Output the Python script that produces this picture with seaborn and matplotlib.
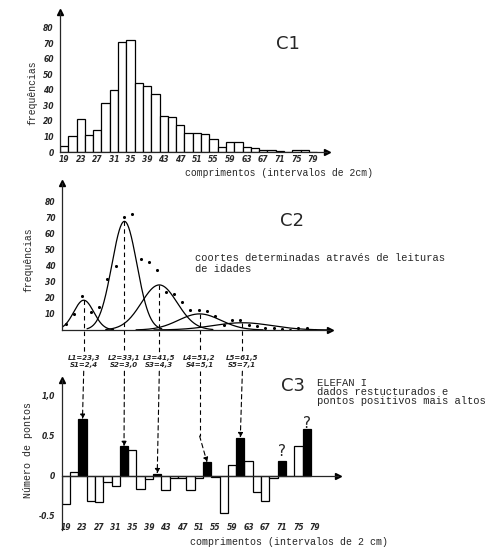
import numpy as np
import pandas as pd
import matplotlib
matplotlib.use("Agg")
import matplotlib.pyplot as plt
import seaborn as sns

W, H = 500, 556

# C1 / C2 : frequencias por classe de 2 cm (centro da classe)
centros = list(range(19, 81, 2))
frequencias = [4, 10, 21, 11, 14.3, 31.5, 40, 70.5, 72, 44.3,
               42.5, 37, 23.3, 22.4, 17.3, 12.4, 12.4, 11.5, 8.5, 3.2,
               6.2, 6.2, 3.2, 2.3, 1.3, 1.3, 0.8, 0, 1.2, 1.5, 0.3]
ticks_x = list(range(19, 81, 4))

# C2 : coortes (medias, desvios, alturas dos picos)
L = [23.3, 33.1, 41.5, 51.2, 61.5]
S = [2.4, 3.0, 4.3, 5.1, 7.1]
picos = [18.5, 67.5, 28, 10, 4.5]

# C3 : ELEFAN I, pontos por classe
centros3 = list(range(19, 79, 2))
pontos = [-0.35, 0.05, 0.71, -0.31, -0.33, -0.07, -0.12, 0.37, 0.33, -0.16,
          -0.04, 0.03, -0.17, -0.03, -0.03, -0.17, -0.03, 0.17, -0.01, -0.46,
          0.14, 0.48, 0.19, -0.20, -0.31, -0.02, 0.19, 0.0, 0.38, 0.59]
picos_positivos = [23, 33, 41, 53, 61, 71, 77]
alvos = [23, 33, 41, 53, 61]

MONO = "Liberation Mono"
TICK = dict(fontsize=5.5, fontstyle="italic", fontweight="bold")


def box(left, top, right, bottom):
    return [left / W, 1 - bottom / H, (right - left) / W, (bottom - top) / H]


def px(x, y):
    return x / W, 1 - y / H


def arrow_axes(ax, x_end, y_top, ymin):
    sns.despine(ax=ax)
    ax.spines["bottom"].set_position(("data", 0))
    ax.spines["bottom"].set_bounds(18, x_end)
    ax.spines["left"].set_bounds(ymin, y_top)
    for sp in ("left", "bottom"):
        ax.spines[sp].set_linewidth(0.9)
    ax.plot(x_end, 0, ">k", ms=4, clip_on=False)
    ax.plot(18, y_top, "^k", ms=4, clip_on=False)
    ax.tick_params(axis="y", direction="out", length=3, width=0.8, pad=1.5)
    ax.tick_params(axis="x", length=0, pad=2)


sns.set_style("white")
plt.rcParams["font.family"] = ["DejaVu Sans"]

fig = plt.figure(figsize=(W / 100, H / 100), dpi=100)

# ---------------- C1 ----------------
ax1 = fig.add_axes(box(60, 12, 338, 152))
df1 = pd.DataFrame({"comp": centros, "freq": frequencias})
sns.barplot(data=df1, x="comp", y="freq", native_scale=True, width=1,
            color="white", edgecolor="black", linewidth=0.9, errorbar=None, ax=ax1)
ax1.set_xlim(18, 85)
ax1.set_ylim(0, 90)
arrow_axes(ax1, 82.3, 90, 0)
ax1.set_yticks(range(0, 90, 10), [str(v) for v in range(0, 90, 10)], **TICK)
ax1.set_xticks(ticks_x, [str(v) for v in ticks_x], **TICK)
ax1.set_xlabel("")
ax1.set_ylabel("")

# ---------------- C2 ----------------
ax2 = fig.add_axes(box(61.7, 182.7, 340, 330))
sns.scatterplot(x=centros, y=frequencias, color="black", s=5, linewidth=0, ax=ax2)
for m, s, a in zip(L, S, picos):
    xs = np.linspace(max(18, m - 3 * s), min(82, m + 3 * s), 200)
    ys = a * np.exp(-0.5 * ((xs - m) / s) ** 2)
    sns.lineplot(x=xs, y=ys, color="black", lw=0.9, ax=ax2)
    ax2.plot([m, m], [a, -13.7], color="black", lw=0.8, ls=(0, (4, 3)), clip_on=False)
ax2.set_xlim(18, 85)
ax2.set_ylim(0, 91.5)
arrow_axes(ax2, 82.7, 91.5, 0)
ax2.set_yticks(range(10, 90, 10), [str(v) for v in range(10, 90, 10)], **TICK)
ax2.set_xticks([])

# ---------------- C3 ----------------
ax3 = fig.add_axes(box(61.7, 380, 340, 530.4))
df3 = pd.DataFrame({"comp": centros3, "pontos": pontos})
df3["pico"] = df3["comp"].isin(picos_positivos)
sns.barplot(data=df3, x="comp", y="pontos", hue="pico", native_scale=True, width=1,
            palette={True: "black", False: "white"}, edgecolor="black", linewidth=0.9,
            dodge=False, errorbar=None, legend=False, ax=ax3)
ax3.set_xlim(18, 85)
ax3.set_ylim(-0.68, 1.2)
arrow_axes(ax3, 84.6, 1.2, -0.68)
ax3.set_yticks([-0.5, 0, 0.5, 1.0], ["-0.5", "0", "0.5", "1,0"], **TICK)
ax3.set_yticks(np.arange(-0.6, 1.15, 0.1), minor=True)
ax3.tick_params(axis="y", which="minor", direction="out", length=2, width=0.6)
ax3.set_xticks([])
ax3.set_xlabel("")
ax3.set_ylabel("")
for v in ticks_x:
    ax3.text(v, -0.65, str(v), ha="center", va="center", **TICK)

# dashed arrows from the cohorts to the ELEFAN peaks
for i, (m, s, bx) in enumerate(zip(L, S, alvos), start=1):
    by = pontos[centros3.index(bx)]
    ax3.text(m, 1.475, f"L{i}={m:.1f}".replace(".", ","), ha="center", va="center",
             fontsize=5, fontstyle="italic", fontweight="bold")
    ax3.text(m, 1.39, f"S{i}={s:.1f}".replace(".", ","), ha="center", va="center",
             fontsize=5, fontstyle="italic", fontweight="bold")
    start = (m, 1.31)
    if abs(bx - m) > 1:
        ax3.plot([m, m], [1.31, 0.5], color="black", lw=0.8, ls=(0, (4, 3)), clip_on=False)
        start = (m, 0.5)
    ax3.annotate("", xy=(bx, by), xytext=start, annotation_clip=False,
                 arrowprops=dict(arrowstyle="-|>", color="black", lw=0.8,
                                 linestyle=(0, (4, 3)), mutation_scale=7,
                                 shrinkA=0, shrinkB=0))

ax3.text(71, 0.30, "?", ha="center", va="center", fontsize=11)
ax3.text(77, 0.66, "?", ha="center", va="center", fontsize=11)

# ---------------- texts ----------------
fig.text(*px(288, 44), "C1", fontsize=13, ha="center", va="center")
fig.text(*px(292, 221), "C2", fontsize=13, ha="center", va="center")
fig.text(*px(293, 386), "C3", fontsize=13, ha="center", va="center")

fig.text(*px(32, 93), "frequências", rotation=90, family=MONO, fontsize=7,
         ha="center", va="center")
fig.text(*px(28, 260), "frequências", rotation=90, family=MONO, fontsize=7,
         ha="center", va="center")
fig.text(*px(28, 450), "Número de pontos", rotation=90, family=MONO, fontsize=7.2,
         ha="center", va="center")

fig.text(*px(185, 173), "comprimentos (intervalos de 2cm)", family=MONO, fontsize=7,
         ha="left", va="center")
fig.text(*px(190, 542), "comprimentos (intervalos de 2 cm)", family=MONO, fontsize=7.2,
         ha="left", va="center")

fig.text(*px(195, 258), "coortes determinadas através de leituras", family=MONO,
         fontsize=7.5, ha="left", va="center")
fig.text(*px(195, 269), "de idades", family=MONO, fontsize=7.5, ha="left", va="center")

for y, line in zip([383.3, 391.8, 400.5],
                   ["ELEFAN I", "dados restucturados e", "pontos positivos mais altos"]):
    fig.text(*px(317, y), line, family=MONO, fontsize=7.6, ha="left", va="center")

fig.savefig("out.png", dpi=100)
